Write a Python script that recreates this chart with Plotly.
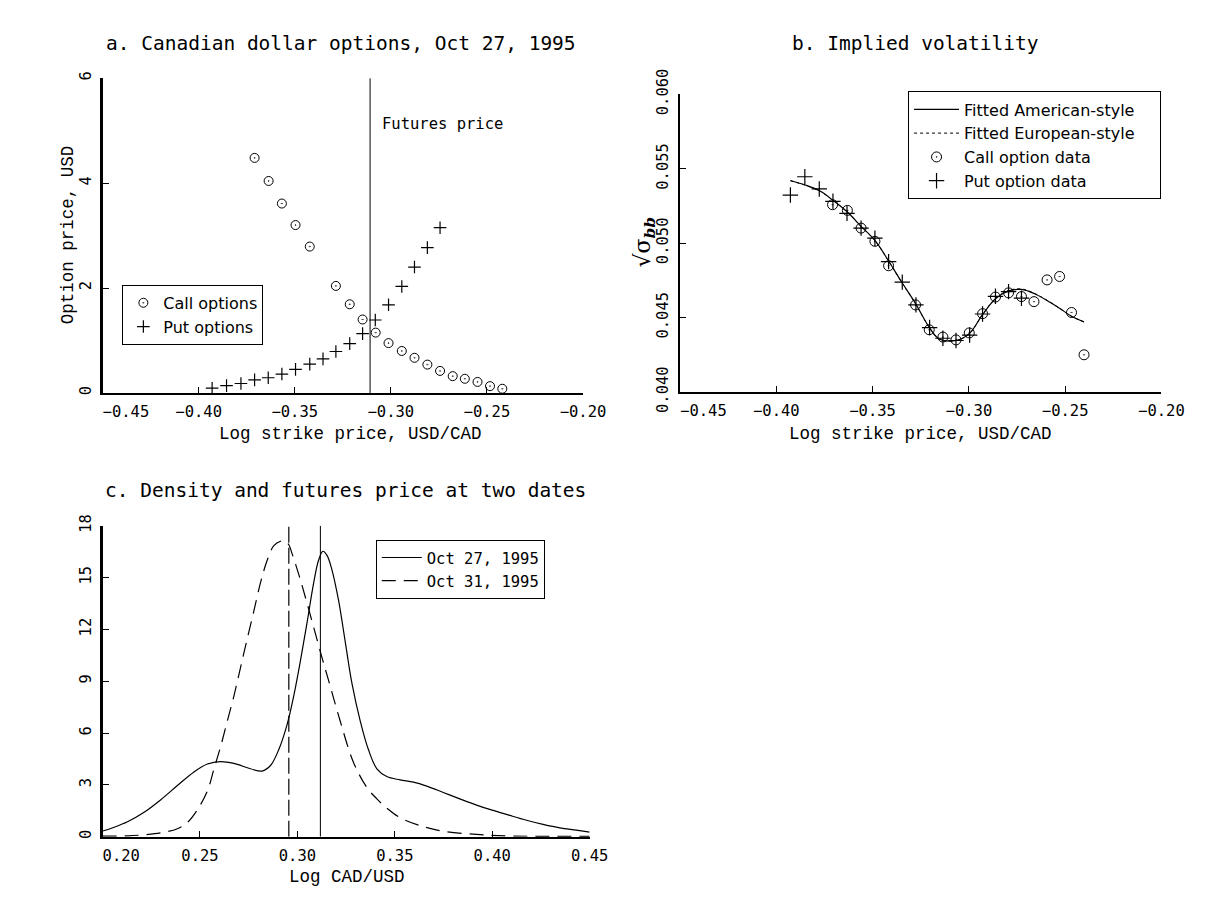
import plotly.graph_objects as go

# ---------------- Panel a data ----------------
call_x_a = [-0.3709, -0.3636, -0.3567, -0.3496, -0.3422, -0.3286, -0.3214, -0.3147, -0.3079, -0.3012,
            -0.2943, -0.2877, -0.2810, -0.2744, -0.2678, -0.2615, -0.2549, -0.2484, -0.2420]
call_y_a = [4.48, 4.04, 3.61, 3.20, 2.79, 2.04, 1.69, 1.40, 1.15, 0.95,
            0.80, 0.67, 0.54, 0.42, 0.32, 0.27, 0.21, 0.13, 0.08]
put_x_a = [-0.3930, -0.3855, -0.3780, -0.3709, -0.3638, -0.3567, -0.3496, -0.3422, -0.3353, -0.3286,
           -0.3214, -0.3147, -0.3081, -0.3012, -0.2943, -0.2877, -0.2810, -0.2744]
put_y_a = [0.09, 0.14, 0.18, 0.25, 0.29, 0.36, 0.45, 0.55, 0.65, 0.79,
           0.94, 1.13, 1.39, 1.68, 2.03, 2.40, 2.77, 3.15]
futures_a = -0.3108

# ---------------- Panel b data ----------------
call_x_b = [-0.3708, -0.3631, -0.3560, -0.3488, -0.3417, -0.3277, -0.3206, -0.3135, -0.3067, -0.2998,
            -0.2929, -0.2862, -0.2794, -0.2727, -0.2662, -0.2594, -0.2529, -0.2467, -0.2402]
call_y_b = [0.05258, 0.05220, 0.05101, 0.05012, 0.04848, 0.04585, 0.04418, 0.04369, 0.04350, 0.04397,
            0.04526, 0.04638, 0.04666, 0.04641, 0.04607, 0.04753, 0.04776, 0.04534, 0.04250]
put_x_b = [-0.3927, -0.3852, -0.3777, -0.3706, -0.3633, -0.3560, -0.3488, -0.3417, -0.3346, -0.3275,
           -0.3204, -0.3135, -0.3067, -0.2996, -0.2929, -0.2862, -0.2794, -0.2727]
put_y_b = [0.05323, 0.05446, 0.05364, 0.05281, 0.05200, 0.05101, 0.05033, 0.04876, 0.04738, 0.04585,
           0.04433, 0.04361, 0.04346, 0.04382, 0.04524, 0.04643, 0.04674, 0.04630]
fit_x_b = [-0.3927, -0.3846, -0.3769, -0.3708, -0.3631, -0.3560, -0.3488, -0.3417, -0.3346, -0.3277,
           -0.3206, -0.3154, -0.3067, -0.2998, -0.2929, -0.2862, -0.2794, -0.2727, -0.2662, -0.2594,
           -0.2529, -0.2467, -0.2402]
fit_am_b = [0.05421, 0.05389, 0.05347, 0.05290, 0.05209, 0.05113, 0.05018, 0.04880, 0.04732, 0.04594,
            0.04435, 0.04356, 0.04346, 0.04392, 0.04520, 0.04626, 0.04679, 0.04689, 0.04662, 0.04615,
            0.04562, 0.04509, 0.04471]
fit_eu_b = [0.05419, 0.05387, 0.05346, 0.05289, 0.05208, 0.05112, 0.05017, 0.04879, 0.04731, 0.04593,
            0.04434, 0.04355, 0.04345, 0.04391, 0.04521, 0.04628, 0.04682, 0.04692, 0.04664, 0.04616,
            0.04562, 0.04508, 0.04470]

# ---------------- Panel c data ----------------
dens27_x = [0.2000, 0.2060, 0.2128, 0.2213, 0.2299, 0.2384, 0.2469, 0.2538, 0.2606, 0.2674,
            0.2759, 0.2819, 0.2862, 0.2904, 0.2947, 0.2981, 0.3015, 0.3049, 0.3084, 0.3109,
            0.3131, 0.3152, 0.3177, 0.3212, 0.3246, 0.3280, 0.3323, 0.3365, 0.3408, 0.3459,
            0.3527, 0.3596, 0.3664, 0.3749, 0.3834, 0.3920, 0.4005, 0.4090, 0.4176, 0.4261,
            0.4346, 0.4432, 0.4500]
dens27_y = [0.33, 0.55, 0.86, 1.41, 2.14, 2.96, 3.75, 4.21, 4.35, 4.24,
            3.93, 3.80, 4.12, 5.03, 6.49, 8.14, 10.15, 12.35, 14.72, 16.01,
            16.52, 16.28, 15.46, 13.63, 11.25, 8.87, 6.68, 5.03, 3.93, 3.48,
            3.29, 3.16, 2.93, 2.56, 2.19, 1.83, 1.52, 1.23, 0.95, 0.71,
            0.51, 0.38, 0.27]
dens31_x = [0.2000, 0.2128, 0.2213, 0.2299, 0.2384, 0.2435, 0.2486, 0.2538, 0.2572, 0.2606,
            0.2640, 0.2674, 0.2708, 0.2742, 0.2777, 0.2811, 0.2845, 0.2879, 0.2913, 0.2939,
            0.2956, 0.2973, 0.3007, 0.3049, 0.3118, 0.3169, 0.3220, 0.3288, 0.3357, 0.3408,
            0.3459, 0.3527, 0.3630, 0.3749, 0.3920, 0.4090, 0.4500]
dens31_y = [0.03, 0.05, 0.11, 0.22, 0.46, 0.82, 1.55, 2.65, 3.93, 5.22,
            6.68, 8.14, 9.79, 11.43, 13.08, 14.72, 16.00, 16.84, 17.10, 17.10,
            16.90, 16.37, 15.18, 13.54, 10.70, 8.69, 6.68, 4.30, 2.84, 2.19,
            1.65, 1.10, 0.64, 0.31, 0.13, 0.04, 0.02]
futures_27 = 0.3118
futures_31 = 0.2956

# ---------------- Tick labels ----------------
NB = "\u00a0"
xtick_vals_ab = [-0.45, -0.40, -0.35, -0.30, -0.25, -0.20]
xtick_text_ab = [NB * 5 + "\u22120.45", "\u22120.40", "\u22120.35", "\u22120.30", "\u22120.25", "\u22120.20"]
xtick_vals_c = [0.20, 0.25, 0.30, 0.35, 0.40, 0.45]
xtick_text_c = [NB * 4 + "0.20", "0.25", "0.30", "0.35", "0.40", "0.45"]

TICK_FONT = dict(family="DejaVu Sans Mono", size=15.5, color="black")
TITLE_FONT = dict(family="DejaVu Sans Mono", size=19.5, color="black")
AXT_FONT = dict(family="Liberation Mono", size=17.5, color="black")
LEG_FONT = dict(family="DejaVu Sans", size=16, color="black")
LEG_FONT_C = dict(family="DejaVu Sans Mono", size=15.5, color="black")

circle_a = dict(symbol="circle-open-dot", size=9, color="black", line=dict(color="black", width=1))
plus_a = dict(symbol="cross-thin-open", size=9, color="black", line=dict(color="black", width=1.2))
circle_b = dict(symbol="circle-open-dot", size=10, color="black", line=dict(color="black", width=1))
plus_b = dict(symbol="cross-thin-open", size=11, color="black", line=dict(color="black", width=1.2))

fig = go.Figure()

# Panel a
fig.add_trace(go.Scatter(x=call_x_a, y=call_y_a, mode="markers", marker=circle_a, name="Call options",
                         xaxis="x", yaxis="y", legend="legend"))
fig.add_trace(go.Scatter(x=put_x_a, y=put_y_a, mode="markers", marker=plus_a, name="Put options",
                         xaxis="x", yaxis="y", legend="legend"))
fig.add_trace(go.Scatter(x=[futures_a, futures_a], y=[0, 6], mode="lines", line=dict(color="black", width=1),
                         showlegend=False, xaxis="x", yaxis="y"))

# Panel b
fig.add_trace(go.Scatter(x=fit_x_b, y=fit_am_b, mode="lines", line=dict(color="black", width=1.2, shape="spline"),
                         name="Fitted American-style" + NB * 4, xaxis="x2", yaxis="y2", legend="legend2"))
fig.add_trace(go.Scatter(x=fit_x_b, y=fit_eu_b, mode="lines",
                         line=dict(color="black", width=1, dash="dot", shape="spline"),
                         name="Fitted European-style" + NB * 4, xaxis="x2", yaxis="y2", legend="legend2"))
fig.add_trace(go.Scatter(x=call_x_b, y=call_y_b, mode="markers", marker=circle_b,
                         name="Call option data", xaxis="x2", yaxis="y2", legend="legend2"))
fig.add_trace(go.Scatter(x=put_x_b, y=put_y_b, mode="markers", marker=plus_b,
                         name="Put option data", xaxis="x2", yaxis="y2", legend="legend2"))

# Panel c
fig.add_trace(go.Scatter(x=dens27_x, y=dens27_y, mode="lines", line=dict(color="black", width=1.2, shape="spline"),
                         name="Oct 27, 1995", xaxis="x3", yaxis="y3", legend="legend3"))
fig.add_trace(go.Scatter(x=dens31_x, y=dens31_y, mode="lines",
                         line=dict(color="black", width=1.2, dash="14px,8px", shape="spline"),
                         name="Oct 31, 1995", xaxis="x3", yaxis="y3", legend="legend3"))
fig.add_trace(go.Scatter(x=[futures_27, futures_27], y=[0, 18], mode="lines", line=dict(color="black", width=1),
                         showlegend=False, xaxis="x3", yaxis="y3"))
fig.add_trace(go.Scatter(x=[futures_31, futures_31], y=[0, 18], mode="lines",
                         line=dict(color="black", width=1.2, dash="16px,5px"),
                         showlegend=False, xaxis="x3", yaxis="y3"))

W, H = 1208, 907


def px_x(p):
    return p / W


def px_y(p):
    return 1 - p / H


def xax(dom, rng, vals, text, anchor):
    return dict(domain=dom, range=rng, tickmode="array", tickvals=vals, ticktext=text, anchor=anchor,
                showline=True, linecolor="black", linewidth=2.5, ticks="inside", ticklen=6,
                tickwidth=1, tickcolor="black", showgrid=False, zeroline=False,
                tickfont=TICK_FONT, ticklabelstandoff=3)


def yax(dom, rng, dtick, fmt, anchor):
    return dict(domain=dom, range=rng, dtick=dtick, tick0=rng[0], tickformat=fmt, tickangle=-90,
                showline=True, linecolor="black", linewidth=2.5, ticks="inside", ticklen=6,
                tickwidth=1, tickcolor="black", showgrid=False, zeroline=False,
                tickfont=TICK_FONT, anchor=anchor, ticklabelstandoff=3)


leg_common = dict(xanchor="left", yanchor="top", bordercolor="black", borderwidth=1, bgcolor="white",
                  tracegroupgap=0)

fig.update_layout(
    width=W, height=H, margin=dict(l=0, r=0, t=0, b=0),
    paper_bgcolor="white", plot_bgcolor="white", hovermode=False,
    xaxis=xax([px_x(59), px_x(569)], [-0.45, -0.20], xtick_vals_ab, xtick_text_ab, "y"),
    yaxis=yax([px_y(387), px_y(55)], [0, 6], 2, "d", "x"),
    xaxis2=xax([px_x(672), px_x(1183)], [-0.45, -0.20], xtick_vals_ab, xtick_text_ab, "y2"),
    yaxis2=yax([px_y(386), px_y(72)], [0.040, 0.060], 0.005, ".3f", "x2"),
    xaxis3=xax([px_x(59), px_x(576)], [0.20, 0.45], xtick_vals_c, xtick_text_c, "y3"),
    yaxis3=yax([px_y(855), px_y(527)], [0, 18], 3, "d", "x3"),
    legend=dict(x=px_x(80), y=px_y(273), font=LEG_FONT, itemwidth=30, **leg_common),
    legend2=dict(x=px_x(914), y=px_y(69), font=LEG_FONT, itemwidth=45, **leg_common),
    legend3=dict(x=px_x(349), y=px_y(542), font=LEG_FONT_C, itemwidth=40, **leg_common),
    showlegend=True,
)

ann = []
# Titles
ann.append(dict(text="a. Canadian dollar options, Oct 27, 1995", x=px_x(312), y=px_y(18), xref="paper",
                yref="paper", showarrow=False, font=TITLE_FONT, xanchor="center", yanchor="middle"))
ann.append(dict(text="b. Implied volatility", x=px_x(922), y=px_y(18), xref="paper", yref="paper",
                showarrow=False, font=TITLE_FONT, xanchor="center", yanchor="middle"))
ann.append(dict(text="c. Density and futures price at two dates", x=px_x(317), y=px_y(490), xref="paper",
                yref="paper", showarrow=False, font=TITLE_FONT, xanchor="center", yanchor="middle"))
# Axis titles
ann.append(dict(text="Log strike price, USD/CAD", x=px_x(322), y=px_y(430), xref="paper", yref="paper",
                showarrow=False, font=AXT_FONT, xanchor="center", yanchor="middle"))
ann.append(dict(text="Log strike price, USD/CAD", x=px_x(927), y=px_y(430), xref="paper", yref="paper",
                showarrow=False, font=AXT_FONT, xanchor="center", yanchor="middle"))
ann.append(dict(text="Log CAD/USD", x=px_x(318), y=px_y(897), xref="paper", yref="paper",
                showarrow=False, font=AXT_FONT, xanchor="center", yanchor="middle"))
ann.append(dict(text="Option price, USD", x=px_x(22), y=px_y(220), xref="paper", yref="paper",
                showarrow=False, font=AXT_FONT, textangle=-90, xanchor="center", yanchor="middle"))
ann.append(dict(text="√σ<sub><b><i>bb</i></b></sub>", x=px_x(634), y=px_y(228), xref="paper", yref="paper",
                showarrow=False, font=dict(family="DejaVu Serif", size=22, color="black"), textangle=-90,
                xanchor="center", yanchor="middle"))
# Futures price label
ann.append(dict(text="Futures price", x=-0.3054, y=5.13, xref="x", yref="y", showarrow=False,
                font=dict(family="DejaVu Sans Mono", size=15.5, color="black"), xanchor="left", yanchor="middle"))
fig.update_layout(annotations=ann)

fig.write_html("out.html", config={"displayModeBar": False, "staticPlot": True},
               post_script="document.body.style.margin='0px';document.body.style.overflow='hidden';")
